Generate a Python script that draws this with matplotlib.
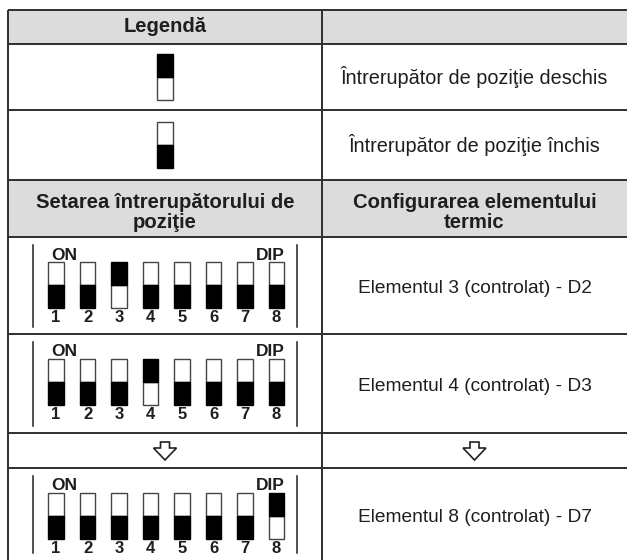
import matplotlib; matplotlib.use("Agg")
import matplotlib.pyplot as plt
from matplotlib.patches import Rectangle, Polygon

# table content
legend_title = "Legendă"
legend_states = [1, 0]                      # 1 = black half on top
legend_labels = ["Întrerupător de poziţie deschis", "Întrerupător de poziţie închis"]
head_left = ["Setarea întrerupătorului de", "poziţie"]
head_right = ["Configurarea elementului", "termic"]
dip_numbers = ["1", "2", "3", "4", "5", "6", "7", "8"]
dip_settings = [[0, 0, 1, 0, 0, 0, 0, 0],
                [0, 0, 0, 1, 0, 0, 0, 0],
                [0, 0, 0, 0, 0, 0, 0, 1]]
config_labels = ["Elementul 3 (controlat) - D2", "Elementul 4 (controlat) - D3", "Elementul 8 (controlat) - D7"]

W, H = 627, 560
FONT = ["Liberation Sans", "DejaVu Sans"]
GRID = "#2e2e2e"; HEAD = "#dcdcdc"
X0, XM, X1 = 8, 322, 627
ROWS = [10, 43.5, 110, 180, 237, 334, 433, 468, 560]

fig = plt.figure(figsize=(W / 100, H / 100), dpi=100)
ax = fig.add_axes([0, 0, 1, 1]); ax.set_xlim(0, W); ax.set_ylim(H, 0); ax.axis("off")

# header fills
for top, bot in ((ROWS[0], ROWS[1]), (ROWS[3], ROWS[4])):
    ax.add_patch(Rectangle((X0, top), X1 - X0, bot - top, fc=HEAD, ec="none", zorder=0))
# grid
for y in ROWS[:-1]:
    ax.plot([X0, X1], [y, y], color=GRID, lw=1.4, solid_capstyle="butt")
for x in (X0, XM):
    ax.plot([x, x], [ROWS[0], H], color=GRID, lw=1.4, solid_capstyle="butt")

def switch(xc, ytop, up, w=15.5, h=46):
    half = h / 2
    ytw, ytb = (ytop + half, ytop) if up else (ytop, ytop + half)
    ax.add_patch(Rectangle((xc - w / 2, ytw), w, half, fc="white", ec="#444444", lw=1.0, zorder=3))
    ax.add_patch(Rectangle((xc - w / 2, ytb), w, half, fc="black", ec="black", lw=1.0, zorder=3))

def txt(x, y, s, size, bold=False, ha="center", va="center"):
    ax.text(x, y, s, fontsize=size, fontweight="bold" if bold else "normal", family=FONT,
            ha=ha, va=va, color="#1e1e1e")

cl, cr = (X0 + XM) / 2, (XM + X1) / 2
txt(cl, 27, legend_title, 14.5, bold=True)
for i, (st, lab) in enumerate(zip(legend_states, legend_labels)):
    yc = (ROWS[1 + i] + ROWS[2 + i]) / 2
    switch(cl, yc - 23, st == 1)
    txt(cr, yc, lab, 14.3)

for k, line in enumerate(head_left):
    txt(cl, 202 + 20 * k, line, 14.6, bold=True)
for k, line in enumerate(head_right):
    txt(cr, 202 + 20 * k, line, 14.6, bold=True)

def dip_row(top, bot, states, label, ylab):
    for x in (33, 297):
        ax.plot([x, x], [top + 8, min(bot - 7, H)], color="#222222", lw=1.1)
    xs = [56 + 31.5 * i for i in range(len(states))]
    txt(51, top + 22.5, "ON", 12.5, bold=True, ha="left", va="baseline")
    txt(xs[-1] + 8, top + 22.5, "DIP", 12.5, bold=True, ha="right", va="baseline")
    for xc, st, n in zip(xs, states, dip_numbers):
        switch(xc, top + 25, st == 1)
        txt(xc, top + 85, n, 12, bold=True, va="baseline")
    txt(cr, ylab, label, 13.8)

row_spans = [(ROWS[4], ROWS[5]), (ROWS[5], ROWS[6]), (ROWS[7], ROWS[8])]
for (top, bot), st, lab in zip(row_spans, dip_settings, config_labels):
    dip_row(top, bot, st, lab, (top + min(bot, 566)) / 2 + 3)

def arrow(xc, ytop):
    pts = [(-4.5, 0), (4.5, 0), (4.5, 6), (11.5, 6), (0, 18), (-11.5, 6), (-4.5, 6)]
    ax.add_patch(Polygon([(xc + a, ytop + b) for a, b in pts], closed=True, fc="white",
                         ec="#222222", lw=1.2, zorder=3))
for xc in (cl, cr):
    arrow(xc, 442)

fig.savefig("out.png", dpi=100)
